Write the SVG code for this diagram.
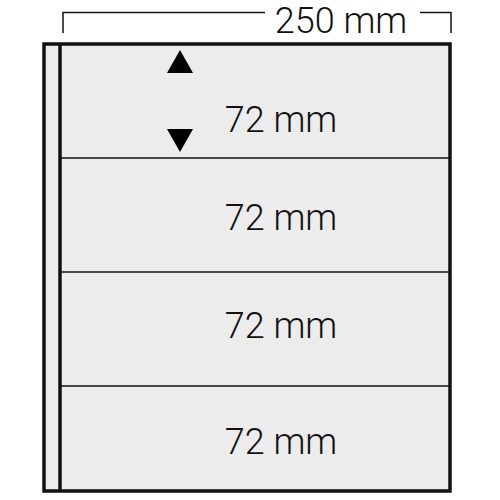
<svg xmlns="http://www.w3.org/2000/svg" width="500" height="500" viewBox="0 0 500 500">
<style>
.lbl{font-family:"Roboto","Liberation Sans",Arial,sans-serif;font-weight:300;font-size:36px;fill:#111;text-anchor:middle}
.thin{stroke:#111;stroke-width:1.5;fill:none}
.thick{stroke:#111;stroke-width:3.5;fill:none}
.page{fill:#ebeceb}
</style>
<rect width="500" height="500" fill="#fff"/>
<g id="sheet">
<rect x="44" y="44" width="406" height="447" class="thick page"/>
<line x1="60" y1="44" x2="60" y2="491" class="thick"/>
</g>
<g id="connectors">
<polyline points="63,33 63,12.5 265,12.5" class="thin"/>
<polyline points="420,12.5 451,12.5 451,33" class="thin"/>
<line x1="61" y1="158" x2="449" y2="158" class="thin"/>
<line x1="61" y1="272" x2="449" y2="272" class="thin"/>
<line x1="61" y1="386" x2="449" y2="386" class="thin"/>
<polygon points="180,50 167,73 193,73" fill="#000"/>
<polygon points="167,129 193,129 180,152" fill="#000"/>
</g>
<g id="labels">
<text class="lbl" x="341" y="33">250 mm</text>
<text class="lbl" x="281" y="132">72 mm</text>
<text class="lbl" x="281" y="230">72 mm</text>
<text class="lbl" x="281" y="338">72 mm</text>
<text class="lbl" x="281" y="454">72 mm</text>
</g>
</svg>
